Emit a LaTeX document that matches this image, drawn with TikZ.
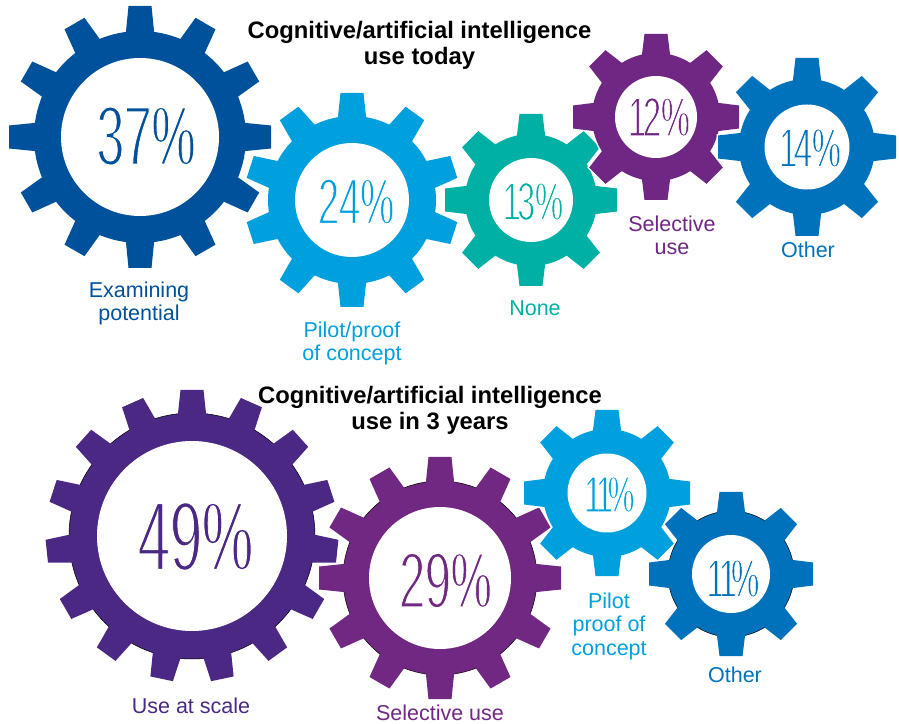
\documentclass[tikz,border=0pt]{standalone}
\usepackage{fontspec}
\setmainfont{Liberation Sans}
\newfontfamily\pctfont{Liberation Sans}[FakeStretch=2.9]
\usepackage{graphicx}
\definecolor{cA}{RGB}{0,81,155}
\definecolor{cB}{RGB}{0,160,222}
\definecolor{cC}{RGB}{0,176,165}
\definecolor{cD}{RGB}{112,38,131}
\definecolor{cE}{RGB}{0,114,188}
\definecolor{cF}{RGB}{74,40,132}
\definecolor{cG}{RGB}{113,40,130}
\tikzset{
  lbl/.style={font=\fontsize{21.5}{23.5}\selectfont, align=center, anchor=base, inner sep=0pt},
  ttl/.style={font=\fontsize{23.8}{26.5}\selectfont\bfseries, align=center, anchor=base, inner sep=0pt},
  pct/.style={inner sep=0pt, anchor=center},
}
% thin the glyphs: fill in colour, stroke in white (stroke mostly thins horizontal strokes)
\newcommand\pcttext[2]{\pgfmathsetmacro\strokew{0.037*#1}%
  \pctfont\fontsize{#1}{#1}\selectfont\scalebox{0.2}[1]{\special{pdf:literal direct 2 Tr 1 1 1 RG \strokew\space w}#2\special{pdf:literal direct 0 Tr}}}
\newcommand\mygear[9]{%
  \begin{scope}[shift={(#2,#3)}]
    \foreach \k in {1,...,#4}{%
      \pgfmathsetmacro\ang{90+(\k-1)*360/#4}%
      \draw[white,line width=3pt,rotate=\ang] (#6-5,-14.5) -- (#5,-11.5) -- (#5,11.5) -- (#6-5,14.5) -- cycle;}
    \draw[white,line width=3pt] (0,0) circle (#6);
    \ifnum#9=1 \filldraw[fill=#8,draw=black,line width=0.5pt] (0,0) circle (#6);\else\fill[#8] (0,0) circle (#6);\fi
    \foreach \k in {1,...,#4}{%
      \pgfmathsetmacro\ang{90+(\k-1)*360/#4}%
      \fill[#8,rotate=\ang] (#6-5,-14.5) -- (#5,-11.5) -- (#5,11.5) -- (#6-5,14.5) -- cycle;}
    \fill[white] (0,0) circle (#7);
    \coordinate (#1) at (0,0);
  \end{scope}}
\begin{document}
\begin{tikzpicture}[x=1pt,y=1pt]
\useasboundingbox (0,0) rectangle (899,723);
% top row
\mygear{g1}{140}{586}{12}{131}{106}{79}{cA}{0}
\mygear{g2}{352}{523}{10}{107}{84}{57}{cB}{0}
\mygear{g3}{531}{523}{8}{86}{66}{42}{cC}{0}
\mygear{g4}{656}{606}{8}{83}{64}{41}{cD}{0}
\mygear{g5}{807}{576}{8}{89}{68}{42.5}{cE}{0}
% bottom row
\mygear{g6}{192}{187}{15}{146}{123}{95}{cF}{1}
\mygear{g7}{440}{145}{12}{121}{97}{71}{cG}{1}
\mygear{g8}{607}{230}{8}{83}{64}{39.5}{cB}{0}
\mygear{g9}{731}{149}{8}{82}{63}{39}{cE}{1}
% percentages
\node[pct,text=cA] (p1) at ([shift={(6,1)}]g1) {\pcttext{85.2}{37\%}};
\node[pct,text=cB] (p2) at ([shift={(4,-1.5)}]g2) {\pcttext{65.6}{24\%}};
\node[pct,text=cC] (p3) at ([shift={(2,-1.5)}]g3) {\pcttext{54.5}{1\kern-.29em3\%}};
\node[pct,text=cD] (p4) at ([shift={(3,0)}]g4) {\pcttext{55.9}{1\kern-.29em2\%}};
\node[pct,text=cE] (p5) at ([shift={(3,-1)}]g5) {\pcttext{55.9}{1\kern-.29em4\%}};
\node[pct,text=cF] (p6) at ([shift={(3.5,-0.5)}]g6) {\pcttext{99.2}{49\%}};
\node[pct,text=cG] (p7) at ([shift={(5.5,-2.5)}]g7) {\pcttext{79.6}{29\%}};
\node[pct,text=cB] (p8) at ([shift={(2.5,-1.5)}]g8) {\pcttext{51.7}{1\kern-.5em1\kern-.5em\%}};
\node[pct,text=cE] (p9) at ([shift={(2,-4.5)}]g9) {\pcttext{54.5}{1\kern-.5em1\kern-.5em\%}};
% labels (anchor = baseline of the last line)
\node[lbl,text=cA] (l1) at (139,402) {Examining\\potential};
\node[lbl,text=cB] (l2) at (352,362) {Pilot/proof\\of concept};
\node[lbl,text=cC] (l3) at (535,407) {None};
\node[lbl,text=cD] (l4) at (672,468) {Selective\\use};
\node[lbl,text=cE] (l5) at (808,465) {Other};
\node[lbl,text=cF] (l6) at (191,10) {Use at scale};
\node[lbl,text=cG] (l7) at (440,3) {Selective use};
\node[lbl,text=cB] (l8) at (609,68) {Pilot\\proof of\\concept};
\node[lbl,text=cE] (l9) at (735,41) {Other};
% titles
\node[ttl] (t1) at (419.5,658) {Cognitive/artificial intelligence\\use today};
\node[ttl] (t2) at (430,293) {Cognitive/artificial intelligence\\use in 3 years};
\end{tikzpicture}
\end{document}
